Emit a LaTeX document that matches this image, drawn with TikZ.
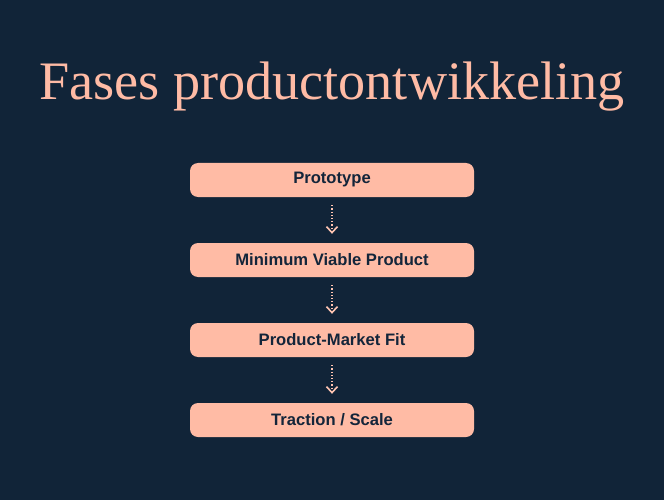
\documentclass[tikz,border=0pt]{standalone}
\usepackage{fontspec}
\setmainfont{Liberation Serif}
\newfontfamily\boxfont{Liberation Sans}
\usetikzlibrary{arrows.meta}
\definecolor{bgnavy}{HTML}{112438}
\definecolor{salmon}{HTML}{FFBBA5}
\definecolor{inkdark}{HTML}{13253A}
\tikzset{
  x=1pt,y=-1pt,
  phasebox/.style={draw=none,fill=salmon,rounded corners=8pt,minimum width=284pt,minimum height=34pt,
    inner sep=0pt,text=inkdark,font=\boxfont\bfseries\fontsize{16.6}{19}\selectfont},
  flowarrow/.style={draw=salmon!85!white,line width=1.2pt,dotted,-{Straight Barb[length=6pt,width=11pt,line width=1.6pt,sep=0pt]}}
}
\begin{document}
\begin{tikzpicture}
\fill[bgnavy] (0,0) rectangle (664,500);
\useasboundingbox (0,0) rectangle (664,500);
\node[text=salmon,font=\fontsize{54.2}{62}\selectfont,anchor=base] (title) at (332,100) {Fases productontwikkeling};
\node[phasebox] (p1) at (332,180) {\raisebox{-1pt}{Prototype}};
\node[phasebox] (p2) at (332,260) {\raisebox{-1pt}{Minimum Viable Product}};
\node[phasebox] (p3) at (332,340) {\raisebox{-1pt}{Product-Market Fit}};
\node[phasebox] (p4) at (332,420) {\raisebox{-1pt}{Traction / Scale}};
\draw[flowarrow] ([yshift=-8pt]p1.south) -- ([yshift=9pt]p2.north);
\draw[flowarrow] ([yshift=-8pt]p2.south) -- ([yshift=9pt]p3.north);
\draw[flowarrow] ([yshift=-8pt]p3.south) -- ([yshift=9pt]p4.north);
\end{tikzpicture}
\end{document}
